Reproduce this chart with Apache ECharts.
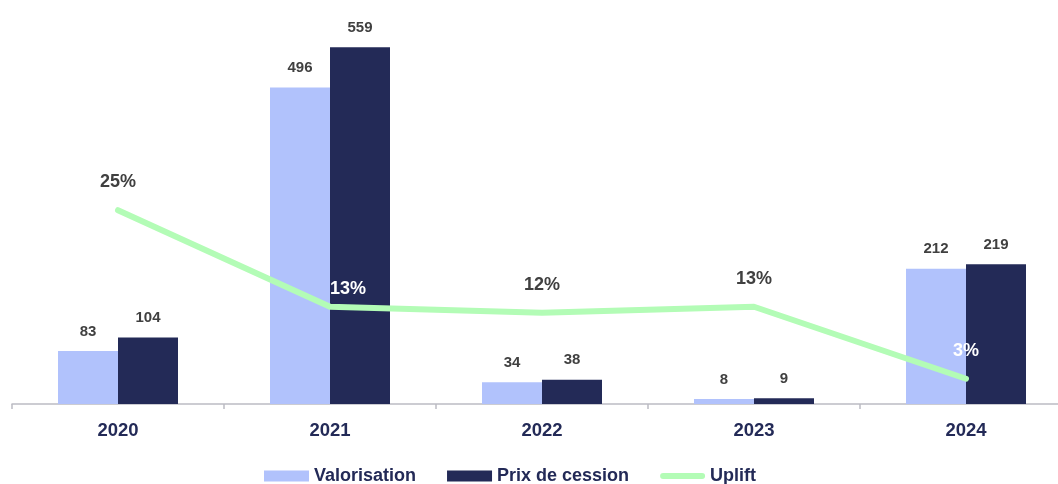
<!DOCTYPE html>
<html>
<head>
<meta charset="utf-8">
<script src="https://cdn.jsdelivr.net/npm/echarts@6/dist/echarts.min.js"></script>
<style>
html,body{margin:0;padding:0;background:#fff;}
#chart{width:1058px;height:484px;}
</style>
</head>
<body>
<div id="chart"></div>
<script>
var categories = ['2020', '2021', '2022', '2023', '2024'];
var valorisation = [83, 496, 34, 8, 212];
var prixCession = [104, 559, 38, 9, 219];
var uplift = [25.3, 12.7, 11.9, 12.7, 3.3];
var upliftLabels = ['25%', '13%', '12%', '13%', '3%'];

var FONT = '"Liberation Sans", Arial, Helvetica, sans-serif';
var NAVY = '#232a57';
var LIGHT = '#b1c2fc';
var GREEN = '#b3fcb6';
var GREY = '#404040';

var whiteIdx = {1: [18, 10], 4: [0, 0]};
var lineData = uplift.map(function (v, i) {
  var d = {value: v};
  if (whiteIdx[i]) {
    d.label = {color: '#ffffff', offset: whiteIdx[i]};
  }
  return d;
});

var chart = echarts.init(document.getElementById('chart'));
chart.setOption({
  animation: false,
  textStyle: {fontFamily: FONT},
  grid: {left: 12, top: 21, right: -14, bottom: 80, containLabel: false, outerBoundsMode: 'none'},
  legend: {
    top: 462,
    left: 259,
    itemWidth: 45,
    itemHeight: 11,
    itemGap: 31,
    textStyle: {fontFamily: FONT, fontSize: 18, fontWeight: 'bold', color: NAVY},
    data: [
      {name: 'Valorisation', icon: 'rect'},
      {name: 'Prix de cession', icon: 'rect'},
      {name: 'Uplift', icon: 'path://M0,0 L0.01,0 M0,11 L0.01,11 M3,2.5 L42,2.5 A3,3 0 0 1 42,8.5 L3,8.5 A3,3 0 0 1 3,2.5 Z M45,0 L44.99,0'}
    ]
  },
  xAxis: {
    type: 'category',
    data: categories,
    axisLine: {lineStyle: {color: '#bcbcc4', width: 1.5}},
    axisTick: {show: true, length: 5, lineStyle: {color: '#bcbcc4', width: 1.5}},
    axisLabel: {fontFamily: FONT, fontSize: 18.5, fontWeight: 'bold', color: NAVY, margin: 17}
  },
  yAxis: [
    {type: 'value', min: 0, max: 600, show: false},
    {type: 'value', min: 0, max: 50, show: false}
  ],
  series: [
    {
      name: 'Valorisation',
      type: 'bar',
      data: valorisation,
      barWidth: 60,
      barGap: '0%',
      itemStyle: {color: LIGHT},
      label: {show: true, position: 'top', distance: 12, fontFamily: FONT, fontSize: 15, fontWeight: 'bold', color: GREY}
    },
    {
      name: 'Prix de cession',
      type: 'bar',
      data: prixCession,
      barWidth: 60,
      barGap: '0%',
      itemStyle: {color: NAVY},
      label: {show: true, position: 'top', distance: 12, fontFamily: FONT, fontSize: 15, fontWeight: 'bold', color: GREY}
    },
    {
      name: 'Uplift',
      type: 'line',
      yAxisIndex: 1,
      data: lineData,
      symbol: 'circle',
      symbolSize: 2,
      showSymbol: true,
      z: 5,
      lineStyle: {color: GREEN, width: 6, cap: 'round', join: 'round'},
      itemStyle: {color: GREEN},
      label: {
        show: true,
        position: 'top',
        distance: 18,
        fontFamily: FONT,
        fontSize: 18,
        fontWeight: 'bold',
        color: GREY,
        formatter: function (p) { return upliftLabels[p.dataIndex]; }
      }
    }
  ]
});
</script>
</body>
</html>
